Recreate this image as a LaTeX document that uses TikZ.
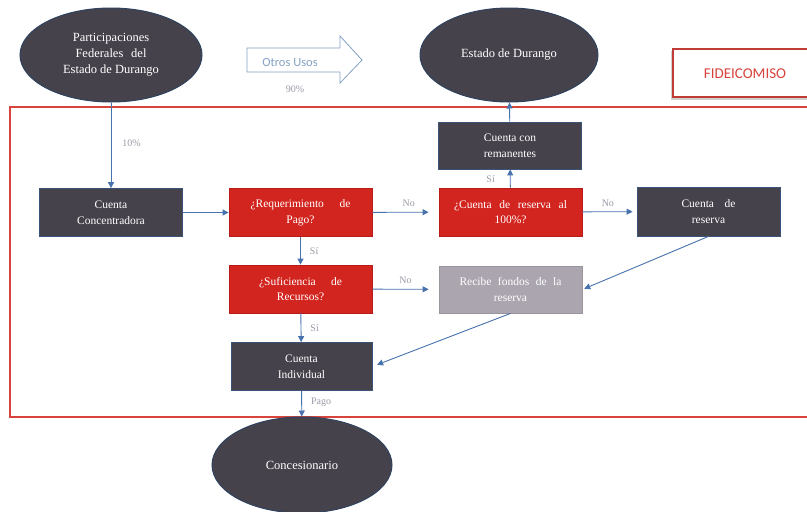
\documentclass[tikz,border=0pt]{standalone}
\usepackage{fontspec}
\setmainfont{Liberation Serif}
\newfontfamily\calfont{Carlito}
\usetikzlibrary{shapes.geometric,arrows.meta}
\definecolor{boxdark}{HTML}{46424B}
\definecolor{boxedge}{HTML}{3A5378}
\definecolor{boxred}{HTML}{D3251F}
\definecolor{rededge}{HTML}{B81C18}
\definecolor{boxgray}{HTML}{ABA5AF}
\definecolor{flowblue}{HTML}{4872AE}
\definecolor{framered}{HTML}{D8433C}
\definecolor{lbl}{HTML}{9A9BA8}
\definecolor{usoblue}{HTML}{86A2C4}
% a line whose inter-word spaces are stretched to a given width
\newcommand{\spreadline}[2]{\makebox[#1][s]{#2}}
\tikzset{
  flowbox/.style={rectangle, minimum width=143pt, minimum height=48pt, inner sep=2pt,
    align=center, font=\fontsize{11.5}{15.5}\selectfont, text=white, line width=0.8pt},
  darkbox/.style={flowbox, fill=boxdark, draw=boxedge},
  redbox/.style={flowbox, fill=boxred, draw=rededge},
  graybox/.style={flowbox, fill=boxgray, draw=boxgray!90!black},
  oval/.style={ellipse, fill=boxdark, draw=boxedge!80!black, line width=1pt, inner sep=0pt,
    align=center, font=\fontsize{12.5}{16}\selectfont, text=white},
  flow/.style={draw=flowblue, line width=0.9pt, -{Triangle[length=6pt,width=6pt]}},
  tag/.style={text=lbl, font=\fontsize{10}{12}\selectfont, inner sep=1pt}
}
\begin{document}
\begin{tikzpicture}[x=1pt,y=-1pt]
\useasboundingbox (0,0) rectangle (807,512);
\clip (0,0) rectangle (807,512);
\fill[white] (0,0) rectangle (807,512);

% trust frame
\draw[framered, line width=1.2pt] (10,107) rectangle (830,417);

% trust caption box, with a faint shadow
\fill[black!18] (671,51) rectangle (830,100);
\draw[framered!90!black, line width=1.5pt, fill=white] (673,49) rectangle (830,97);
\node[text=framered, font=\calfont\fontsize{15}{17}\selectfont] (fid) at (745,74) {FIDEICOMISO};

% "Otros Usos" block arrow
\draw[usoblue, line width=0.8pt, fill=white]
  (247,48) -- (340,48) -- (340,36) -- (362,60) -- (340,83) -- (340,72) -- (247,72) -- cycle;
\node[text=usoblue, font=\calfont\fontsize{12.5}{14}\selectfont] (usos) at (290,62) {Otros Usos};
\node[tag] (p90) at (295,89) {90\%};

% ellipses
\node[oval, minimum width=182pt, minimum height=94pt] (part) at (111,55)
  {Participaciones\\\spreadline{71pt}{Federales del}\\Estado de Durango};
\node[oval, minimum width=178pt, minimum height=94pt] (edo) at (509,55) {Estado de Durango};
\node[oval, minimum width=180pt, minimum height=96pt] (conc) at (302,465) {Concesionario};

% boxes
\node[darkbox] (cc) at (111,212.5) {Cuenta\\Concentradora};
\node[redbox] (req) at (300.5,212.5) {\spreadline{100pt}{¿Requerimiento de}\\Pago?};
\node[redbox] (suf) at (300.5,289) {\spreadline{83pt}{¿Suficiencia de}\\Recursos?};
\node[darkbox, minimum width=141pt] (ind) at (301.5,366.5) {Cuenta\\Individual};
\node[darkbox, minimum height=47pt] (rem) at (510,145.5) {Cuenta con\\remanentes};
\node[redbox] (cien) at (510.5,212) {\spreadline{113pt}{¿Cuenta de reserva al}\\100\%?};
\node[darkbox, minimum height=49pt] (res) at (708.5,211.5) {\spreadline{54pt}{Cuenta de}\\reserva};
\node[graybox, minimum height=47pt] (rec) at (510.5,289.5) {\spreadline{102pt}{Recibe fondos de la}\\reserva};

% connectors
\draw[flow] (part) -- (cc) node[tag, pos=0.48, right=10pt] {10\%};
\draw[flow] (cc) -- (req);
\draw[flow, shorten >=10pt] (req) -- (cien) node[tag, pos=0.55, above=4pt] {No};
\draw[flow, shorten >=4pt] (cien) -- (res) node[tag, pos=0.47, above=4pt] {No};
\draw[flow] (cien) -- (rem) node[tag, pos=0.45, left=14pt] {Sí};
\draw[flow] (rem) -- (edo);
\draw[flow] (req) -- (suf) node[tag, pos=0.5, right=8pt] {Sí};
\draw[flow, shorten >=10pt] (suf) -- (rec) node[tag, pos=0.5, above=4pt] {No};
\draw[flow] (suf) -- (ind) node[tag, pos=0.5, right=8pt] {Sí};
\draw[flow, shorten >=2pt] (res.south) -- (rec.east);
\draw[flow, shorten >=5pt] (rec.south) -- (ind.east);
\draw[flow] (ind) -- (conc) node[tag, pos=0.45, right=8pt] {Pago};
\end{tikzpicture}
\end{document}
